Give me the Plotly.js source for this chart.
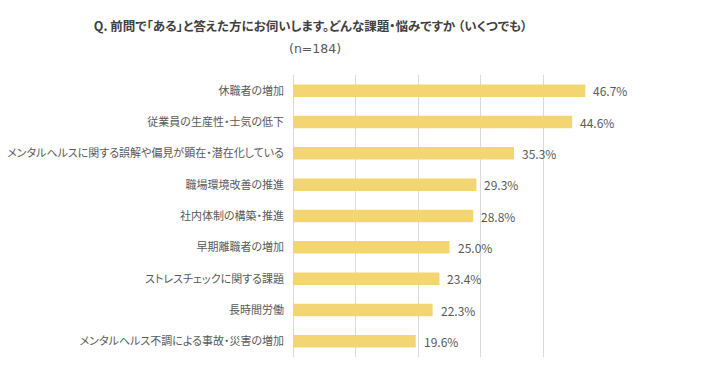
<!DOCTYPE html>
<html>
<head>
<meta charset="utf-8">
<script src="https://cdn.plot.ly/plotly-3.0.1.min.js"></script>
<style>
html,body{margin:0;padding:0;background:#fff;}
#chart{width:708px;height:386px;}
#chart .yaxislayer-above text, #chart .annotation[data-index="0"] text{font-feature-settings:"palt" 1;}
</style>
</head>
<body>
<div id="chart"></div>
<script>
const categories = [
  "休職者の増加",
  "従業員の生産性・士気の低下",
  "メンタルヘルスに関する誤解や偏見が顕在・潜在化している",
  "職場環境改善の推進",
  "社内体制の構築・推進",
  "早期離職者の増加",
  "ストレスチェックに関する課題",
  "長時間労働",
  "メンタルヘルス不調による事故・災害の増加"
];
const values = [46.7, 44.6, 35.3, 29.3, 28.8, 25.0, 23.4, 22.3, 19.6];
const valueLabels = ["46.7%", "44.6%", "35.3%", "29.3%", "28.8%", "25.0%", "23.4%", "22.3%", "19.6%"];
const titleText = "Q. 前問で「ある」と答えた方にお伺いします。どんな課題・悩みですか （いくつでも）";
const subtitleText = "(n=184)";

const font = "'Noto Sans CJK JP', 'Noto Sans', sans-serif";

const trace = {
  type: "bar",
  orientation: "h",
  y: categories,
  x: values,
  marker: {color: "#F3D571", line: {width: 0}},
  width: 0.4,
  hoverinfo: "none"
};

const layout = {
  width: 708,
  height: 386,
  margin: {l: 293, r: 102, t: 75, b: 29},
  paper_bgcolor: "#ffffff",
  plot_bgcolor: "#ffffff",
  showlegend: false,
  font: {family: font, size: 11, color: "#595959"},
  xaxis: {
    range: [0, 50],
    dtick: 10,
    showticklabels: false,
    showgrid: true,
    gridcolor: "#d9d9d9",
    gridwidth: 1,
    zeroline: true,
    zerolinecolor: "#d9d9d9",
    zerolinewidth: 1,
    fixedrange: true
  },
  yaxis: {
    autorange: "reversed",
    type: "category",
    ticks: "",
    ticklabelstandoff: 8,
    tickfont: {family: font, size: 11, color: "#595959"},
    showgrid: false,
    zeroline: false,
    fixedrange: true
  },
  annotations: [
    {text: "<b>" + titleText + "</b>", xref: "paper", yref: "paper", x: 0.05, y: 1, xanchor: "center", yanchor: "middle",
     showarrow: false, font: {family: font, size: 12.5, color: "#404040"}},
    {text: subtitleText, xref: "paper", yref: "paper", x: 0.05, y: 1, xanchor: "center", yanchor: "middle",
     showarrow: false, font: {family: "'DejaVu Sans', sans-serif", size: 12.5, color: "#595959"}}
  ]
};

const plotW = 708 - layout.margin.l - layout.margin.r;
const plotH = 386 - layout.margin.t - layout.margin.b;
layout.annotations[0].x = (310 - layout.margin.l) / plotW;
layout.annotations[0].y = (386 - layout.margin.b - 25) / plotH;
layout.annotations[1].x = (315 - layout.margin.l) / plotW;
layout.annotations[1].y = (386 - layout.margin.b - 48) / plotH;

values.forEach(function (v, i) {
  layout.annotations.push({
    x: v, y: categories[i], xref: "x", yref: "y",
    text: valueLabels[i], showarrow: false,
    xanchor: "left", yanchor: "middle", xshift: 6,
    font: {family: font, size: 12, color: "#595959"}
  });
});

Plotly.newPlot("chart", [trace], layout, {displayModeBar: false, staticPlot: true});
</script>
</body>
</html>
